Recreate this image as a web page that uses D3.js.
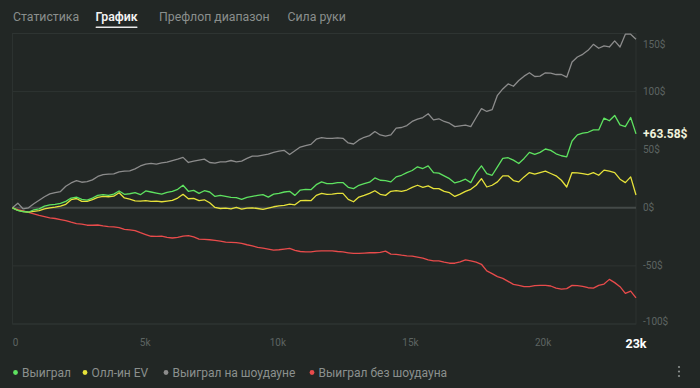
<!DOCTYPE html>
<html><head><meta charset="utf-8">
<script src="https://cdn.jsdelivr.net/npm/d3@7"></script>
<style>
html,body{margin:0;padding:0;background:#222725;}
svg{display:block;font-family:Roboto,"Noto Sans",sans-serif;}
</style></head>
<body>
<svg id="c" width="700" height="388"></svg>
<script>
// ---- data ----
const tabs = ["Статистика", "График", "Префлоп диапазон", "Сила руки"];
const activeTab = "График";
const totalHands = 23500;
const endLabel = "23k";
const xTicks = [0, 5000, 10000, 15000, 20000];
const xTickLabels = ["0", "5k", "10k", "15k", "20k"];
const yTicks = [150, 100, 50, 0, -50, -100];
const yTickLabels = ["150$", "100$", "50$", "0$", "-50$", "-100$"];
const finalLabel = "+63.58$";
const seriesNames = ["Выиграл", "Олл-ин EV", "Выиграл на шоудауне", "Выиграл без шоудауна"];

const won = [0,-2.3,-3.2,-3.8,-1.7,-0.9,1.4,2.6,2.9,3.8,5.5,8.4,9.2,7.2,6.6,8.4,10.7,11.3,10.7,11.8,14.5,11.6,12.1,13,11.3,14.5,13.6,12.7,11.8,13.3,
 14.2,15.9,19.4,14.2,15,12.4,14.7,13.6,9.8,10.7,9.8,9,8.7,7.2,9,9.8,10.7,11.3,9.2,11.8,12.4,13.6,14.2,10.7,15.3,15.9,15.6,19.9,22.3,
 20.8,20.8,21.7,21.7,17.6,16.5,19.4,20.8,22,25.7,23.7,23.4,22.3,26.6,28,30.3,32.1,35.3,33.8,36.1,30.3,29.8,27.5,25.1,21.4,22.8,24.6,21.7,30.3,36.1,
 29.5,28,35.3,42.5,43.1,41,38.1,42.5,47.7,46,47.7,50.6,49.4,46.5,44.8,43.9,57.5,62.7,64.2,65,67,67,77.2,74.9,79.5,71.4,69.9,77.7,63.58];
const allinEV = [0,-2.3,-3.2,-3.8,-3,-2.5,-1,0,0.5,1.4,3,7,8,5.5,5.5,7,9,9.8,9.5,10,13,8.5,7.5,6,5.8,6.1,5.5,5.8,5.2,5.8,
 6.4,8.4,11.6,7.8,8.1,6.1,6.9,4.3,0.3,-0.6,-0.3,-0.9,0.3,-1.2,-0.3,0,-0.6,-1.4,-0.3,0.9,1.7,2,3.2,2.6,6.1,6.4,6.1,10.7,12.4,
 11.6,11.8,12.4,12.4,7.2,5.2,9.2,10.7,12.4,14.7,11.6,10.7,14.2,14.7,14.2,15.3,17.6,19.4,17.6,18.8,16.5,16.5,14.2,13,9.8,11.8,14.2,15.9,19.4,25.1,
 17.9,19.4,22.3,27.5,27.5,23.4,22.3,26.6,30.3,28.9,30.3,31.5,29.5,27.5,23.7,17.9,30.3,30.1,29.5,28.6,30.3,28,32.4,31.5,30.3,24.6,21.7,26.6,11];
const showdown = [0,4,-1,0,3.5,6.5,9.5,12,13,14,18.5,21.4,23.4,22,22.5,24,27,28.6,29,29.2,31,31.5,31.8,33.5,36,37.6,38.2,37.6,38.7,39.3,
 40.7,41.9,43.4,39,40.2,41,41.9,39,38.4,39.6,39.6,40.7,39.6,40.2,42.5,44.5,44.5,45.4,46.2,47.7,48.8,49.4,45.9,49.1,52.3,53.5,54.6,59,60.4,
 59.8,59.8,60.1,59.8,55.8,54.9,58.4,60.7,62.1,65.6,62.7,61.6,62.7,68.5,69.1,70.8,74.3,76.3,77.7,80.9,75.7,76.6,74.3,72.8,69.9,70.5,71.1,69.9,77.7,85.3,
 82.9,84.4,96.8,102.3,106.6,104.6,109.5,113.3,116.2,113,113.3,116.2,115.9,114.7,114.7,112.4,125.4,129.8,132.1,135.5,140.7,137.3,139.3,138.4,143.6,138.4,149.4,149.4,145.1];
const nonShowdown = [0,-1.5,-2.6,-4,-5.2,-6.6,-7.5,-8.7,-9.2,-10.1,-11,-12.4,-13.6,-14,-15,-15,-14.8,-15.6,-16.2,-16.5,-17,-18.5,-19,-19.6,-21.4,-23,-24.5,-24.6,-24.3,-25.4,
 -26,-25.4,-24.3,-24,-25.1,-26.9,-27.2,-27.5,-28,-28.6,-29.5,-29.8,-30,-30.6,-31.8,-32.7,-34.1,-34.7,-35.5,-36.4,-36.1,-35.5,-35,-36.7,-37.6,-37.9,-37.9,-37.3,-37,
 -37,-37,-37.6,-38,-38.7,-39.3,-39.3,-39,-38.7,-38.7,-38.4,-37.3,-39.9,-40,-40.8,-41.3,-41.6,-42.5,-43.4,-44.8,-45.7,-45.7,-46.8,-47.7,-47.7,-46.5,-44.8,-45.7,-46.8,-48.6,
 -54.3,-56.6,-59.2,-60.7,-63.3,-65.9,-66.8,-67.9,-67.9,-67,-66.8,-66.8,-67.3,-69.1,-69.9,-69.6,-66.8,-67,-67.6,-68.8,-69.1,-66.8,-65.6,-61.6,-64.4,-67.9,-73.7,-71.7,-77.5];

const colors = ["#5ee260", "#e6e23a", "#8c8c8c", "#e84b4b"];

// ---- drawing ----
(function () {
const svg = d3.select("#c");
const pl = 12.5, pr = 636, pt = 33.5, pb = 324;
const x = d3.scaleLinear().domain([0, totalHands]).range([pl, pr]);
const y = d3.scaleLinear().domain([-100, 150]).range([pb, pt]);

// tabs
const tabX = [13, 95.5, 159, 287.5];
tabs.forEach((t, i) => {
  const active = t === activeTab;
  const tx = svg.append("text").attr("x", tabX[i]).attr("y", 21)
    .attr("font-size", 12.3).attr("fill", active ? "#f2f2f2" : "#8a8f8d")
    .attr("font-weight", active ? 600 : 400).text(t);
  if (active) {
    const w = tx.node().getComputedTextLength();
    svg.append("rect").attr("x", tabX[i]).attr("y", 26.5).attr("width", w).attr("height", 1.5)
      .attr("rx", 0.75).attr("fill", "#e8e8e8");
  }
});

// plot frame
svg.append("rect").attr("x", pl).attr("y", pt).attr("width", pr - pl).attr("height", pb - pt)
  .attr("fill", "none").attr("stroke", "#2c3230").attr("stroke-width", 1);

// grid
yTicks.forEach(v => {
  if (v === 0) return;
  svg.append("line").attr("x1", pl).attr("x2", pr).attr("y1", y(v)).attr("y2", y(v))
    .attr("stroke", "#2e3432").attr("stroke-width", 1);
});
svg.append("line").attr("x1", pl).attr("x2", pr).attr("y1", y(0)).attr("y2", y(0))
  .attr("stroke", "#444a48").attr("stroke-width", 2);

// y labels
yTicks.forEach((v, i) => {
  const yy = Math.max(44, Math.min(321.5, y(v)));
  svg.append("text").attr("x", 643).attr("y", yy).attr("dy", "0.35em")
    .attr("font-size", 10).attr("fill", "#5d6462").text(yTickLabels[i]);
});

// x labels
xTicks.forEach((v, i) => {
  svg.append("text").attr("x", i === 0 ? pl + 3 : x(v)).attr("y", 346)
    .attr("text-anchor", "middle").attr("font-size", 10).attr("fill", "#5d6462").text(xTickLabels[i]);
});
svg.append("text").attr("x", pr).attr("y", 347.5).attr("text-anchor", "middle")
  .attr("font-size", 12.5).attr("font-weight", 700).attr("fill", "#ffffff").text(endLabel);

// lines
const series = [won, allinEV, showdown, nonShowdown];
const step = totalHands / (won.length - 1);
const line = d3.line().x((d, i) => x(i * step)).y(d => y(d));
[3, 2, 1, 0].forEach(k => {
  svg.append("path").datum(series[k]).attr("d", line).attr("fill", "none")
    .attr("stroke", colors[k]).attr("stroke-width", 1.3).attr("stroke-linejoin", "round");
});

// final label
svg.append("text").attr("x", 643).attr("y", y(won[won.length - 1])).attr("dy", "0.35em")
  .attr("font-size", 12).attr("font-weight", 700).attr("fill", "#f1f3dc").text(finalLabel);

// legend
const legX = [15.5, 85, 166, 312];
seriesNames.forEach((n, i) => {
  svg.append("circle").attr("cx", legX[i]).attr("cy", 372.5).attr("r", 2.4).attr("fill", colors[i]);
  svg.append("text").attr("x", legX[i] + 6.5).attr("y", 372.5).attr("dy", "0.35em")
    .attr("font-size", 12).attr("fill", "#8b908e").text(n);
});
// menu dots
[-4.5, 0, 4.5].forEach(d => {
  svg.append("circle").attr("cx", 679).attr("cy", 371.5 + d).attr("r", 1.1).attr("fill", "#8b908e");
});
})();
</script>
</body></html>
